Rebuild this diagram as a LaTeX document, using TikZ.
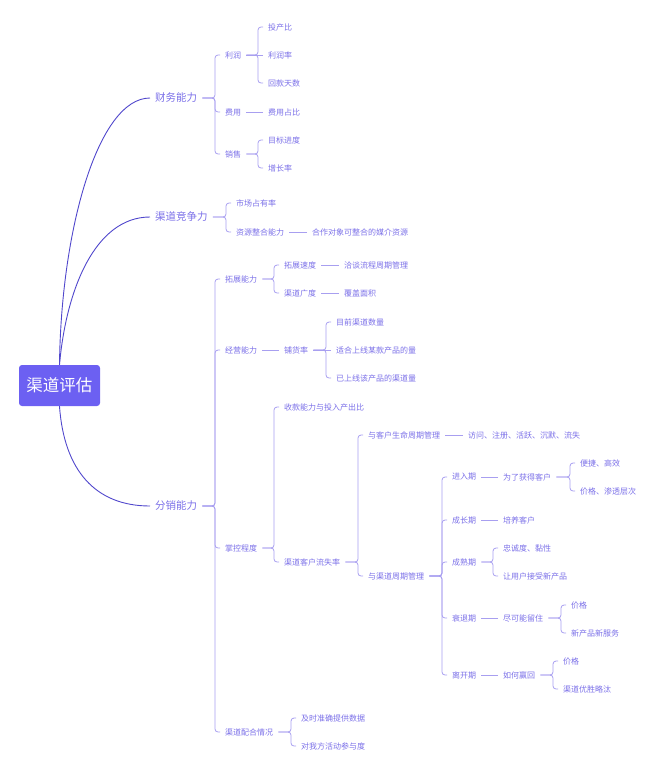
\documentclass[tikz,border=0pt]{standalone}
\usepackage{fontspec}
\setmainfont{Noto Sans CJK SC}
\definecolor{rootfill}{HTML}{6C60F2}
\definecolor{txt}{HTML}{7B70E8}
\definecolor{ln}{HTML}{A89FF0}
\definecolor{cv}{HTML}{5047CC}

\begin{document}
\begin{tikzpicture}[x=1pt,y=-1pt,
    leaf/.style={anchor=west,inner sep=0pt,text=txt,font=\fontsize{8}{10}\selectfont},
    topic/.style={leaf,font=\fontsize{10.5}{13}\selectfont},
    link/.style={draw=ln,line width=0.8pt,rounded corners=3pt,shorten <=5pt,shorten >=5pt},
    trunk/.style={draw=cv,line width=0.9pt,shorten >=5pt}]
    \useasboundingbox (0,0) rectangle (663,777);
    % root
    \node[fill=rootfill,text=white,rounded corners=3pt,minimum width=81pt,minimum height=41pt,
      font=\fontsize{16.5}{20}\selectfont] (pg) at (59.5,385.5) {渠道评估};
    % first level
    \node[topic] (cw) at (155,98) {财务能力};
    \node[topic] (jz) at (155,217) {渠道竞争力};
    \node[topic] (fx) at (155,506) {分销能力};
    \draw[trunk] (pg.north) .. controls (61,230) and (98,98) .. (cw.west);
    \draw[trunk] (pg.north) .. controls (66,290) and (95,217) .. (jz.west);
    \draw[trunk] (pg.south) .. controls (64,470) and (95,506) .. (fx.west);
    % finance
    \node[leaf] (lr) at (225,55) {利润};
    \node[leaf] (fy) at (225,112) {费用};
    \node[leaf] (xs) at (225,154) {销售};
    \node[leaf] (tcb) at (268,27) {投产比};
    \node[leaf] (lrl) at (268,55) {利润率};
    \node[leaf] (hk) at (268,83) {回款天数};
    \node[leaf] (fyzb) at (268,112) {费用占比};
    \node[leaf] (mb) at (268,140) {目标进度};
    \node[leaf] (zz) at (268,168) {增长率};
    % competition
    \node[leaf] (sc) at (236,203) {市场占有率};
    \node[leaf] (zy) at (236,232) {资源整合能力};
    \node[leaf] (hz) at (312,232) {合作对象可整合的媒介资源};
    % distribution
    \node[leaf] (tz) at (225,279) {拓展能力};
    \node[leaf] (jy) at (225,350) {经营能力};
    \node[leaf] (zk) at (225,548) {掌控程度};
    \node[leaf] (ph) at (225,732) {渠道配合情况};
    \node[leaf] (sd) at (284,265) {拓展速度};
    \node[leaf] (gd) at (284,293) {渠道广度};
    \node[leaf] (qt) at (344,265) {洽谈流程周期管理};
    \node[leaf] (fg) at (344,293) {覆盖面积};
    \node[leaf] (phl) at (284,350) {铺货率};
    \node[leaf] (mq) at (336,322) {目前渠道数量};
    \node[leaf] (sh) at (336,350) {适合上线某款产品的量};
    \node[leaf] (ysx) at (336,378) {已上线该产品的渠道量};
    \node[leaf] (sk) at (284,407) {收款能力与投入产出比};
    \node[leaf] (ls) at (284,562) {渠道客户流失率};
    \node[leaf] (khgl) at (368,435) {与客户生命周期管理};
    \node[leaf] (fw) at (468,435) {访问、注册、活跃、沉默、流失};
    \node[leaf] (qdgl) at (368,576) {与渠道周期管理};
    \node[leaf] (jr) at (452,477) {进入期};
    \node[leaf] (cz) at (452,520) {成长期};
    \node[leaf] (cs) at (452,562) {成熟期};
    \node[leaf] (st) at (452,618) {衰退期};
    \node[leaf] (lk) at (452,675) {离开期};
    \node[leaf] (hd) at (503,477) {为了获得客户};
    \node[leaf] (bj) at (580,463) {便捷、高效};
    \node[leaf] (jg) at (580,491) {价格、渗透层次};
    \node[leaf] (py) at (503,520) {培养客户};
    \node[leaf] (zc) at (503,548) {忠诚度、黏性};
    \node[leaf] (js) at (503,576) {让用户接受新产品};
    \node[leaf] (lz) at (503,618) {尽可能留住};
    \node[leaf] (jgb) at (571,605) {价格};
    \node[leaf] (xcp) at (571,633) {新产品新服务};
    \node[leaf] (yh) at (503,675) {如何赢回};
    \node[leaf] (jgc) at (563,661) {价格};
    \node[leaf] (yt) at (563,689) {渠道优胜略汰};
    \node[leaf] (ts) at (301,718) {及时准确提供数据};
    \node[leaf] (cy) at (301,746) {对我方活动参与度};
    % brackets
    \foreach \p/\c in {cw/lr,cw/fy,cw/xs,lr/tcb,lr/hk,xs/mb,xs/zz,jz/sc,jz/zy,
        fx/tz,fx/jy,fx/zk,fx/ph,tz/sd,tz/gd,phl/mq,phl/ysx,zk/sk,zk/ls,
        ls/khgl,ls/qdgl,qdgl/jr,qdgl/cz,qdgl/cs,qdgl/st,qdgl/lk,hd/bj,hd/jg,
        cs/zc,cs/js,lz/jgb,lz/xcp,yh/jgc,yh/yt,ph/ts,ph/cy}
      \draw[link] (\c.west) -- ++(-10pt,0) |- (\p.east);
    % straight links
    \foreach \p/\c in {lr/lrl,fy/fyzb,zy/hz,sd/qt,gd/fg,jy/phl,phl/sh,
        khgl/fw,jr/hd,cz/py,st/lz,lk/yh}
      \draw[link] (\c.west) -- (\p.east);
\end{tikzpicture}
\end{document}
